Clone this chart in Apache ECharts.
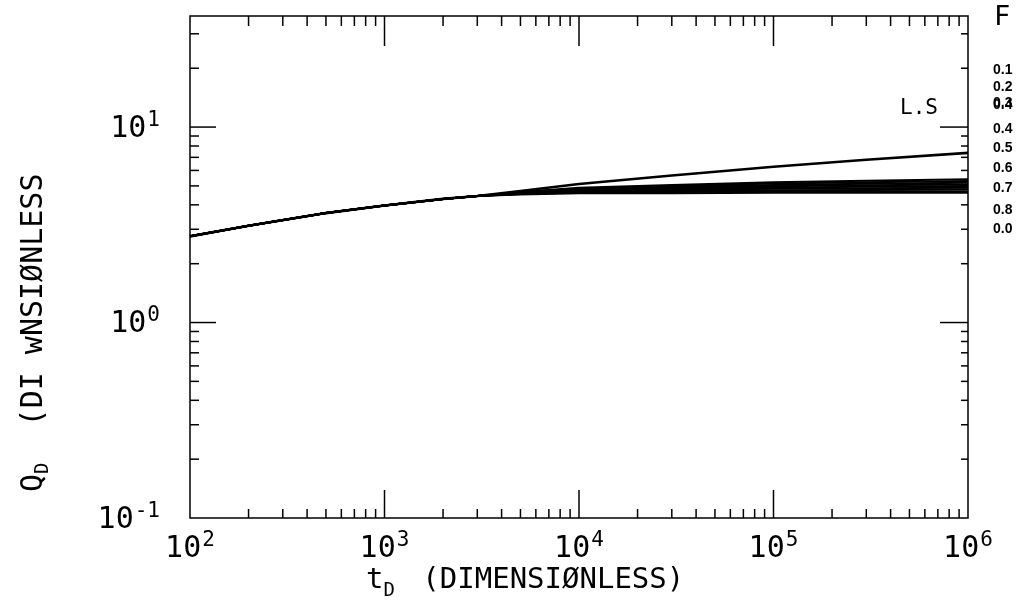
<!DOCTYPE html>
<html>
<head>
<meta charset="utf-8">
<script src="https://cdn.jsdelivr.net/npm/echarts@6/dist/echarts.min.js"></script>
<style>
html,body{margin:0;padding:0;background:#fff;}
#chart{width:1016px;height:602px;}
</style>
</head>
<body>
<div id="chart"></div>
<script>
// ---- data ----
const tValues = [100, 200, 500, 1000, 2000, 3000, 5000, 10000, 30000, 100000, 300000, 1000000];
const qLS   = [2.76, 3.13, 3.63, 3.97, 4.29, 4.44, 4.71, 5.11, 5.65, 6.26, 6.80, 7.38];
const qF01  = [2.76, 3.13, 3.63, 3.97, 4.29, 4.44, 4.66, 4.89, 5.05, 5.22, 5.31, 5.41];
const qF02  = [2.76, 3.13, 3.63, 3.97, 4.29, 4.44, 4.64, 4.85, 4.99, 5.14, 5.22, 5.30];
const qF03  = [2.76, 3.13, 3.63, 3.97, 4.29, 4.44, 4.63, 4.81, 4.93, 5.06, 5.13, 5.19];
const qF04  = [2.76, 3.13, 3.63, 3.97, 4.29, 4.44, 4.61, 4.77, 4.87, 4.98, 5.04, 5.09];
const qF05  = [2.76, 3.13, 3.63, 3.97, 4.29, 4.44, 4.59, 4.73, 4.82, 4.90, 4.95, 4.99];
const qF06  = [2.76, 3.13, 3.63, 3.97, 4.29, 4.44, 4.57, 4.69, 4.76, 4.83, 4.86, 4.89];
const qF07  = [2.76, 3.13, 3.63, 3.97, 4.29, 4.44, 4.56, 4.65, 4.71, 4.75, 4.77, 4.80];
const qF08  = [2.76, 3.13, 3.63, 3.97, 4.29, 4.44, 4.54, 4.62, 4.65, 4.68, 4.69, 4.70];
const qF00  = [2.76, 3.13, 3.63, 3.97, 4.29, 4.44, 4.52, 4.58, 4.59, 4.61, 4.61, 4.61];
const fLabels = ['0.1', '0.2', '0.3', '0.4', '0.4', '0.5', '0.6', '0.7', '0.8', '0.0'];
const xMajorTicks = [1000, 10000, 100000];
const xMinorTicks = [200,300,400,500,600,700,800,900,
  2000,3000,4000,5000,6000,7000,8000,9000,
  20000,30000,40000,50000,60000,70000,80000,90000,
  200000,300000,400000,500000,600000,700000,800000,900000];
const yMajorTicks = [1, 10];
const yMinorTicks = [0.2,0.3,0.4,0.5,0.6,0.7,0.8,0.9,2,3,4,5,6,7,8,9,20,30];

const MONO = '"DejaVu Sans Mono","Liberation Mono",monospace';

function zip(a){ return tValues.map((t,i)=>[t,a[i]]); }

const curveSeries = [
  ['L.S', qLS, 2.6],
  ['F=0.1', qF01, 2], ['F=0.2', qF02, 2], ['F=0.3', qF03, 2], ['F=0.4', qF04, 2],
  ['F=0.5', qF05, 2], ['F=0.6', qF06, 2], ['F=0.7', qF07, 2], ['F=0.8', qF08, 2],
  ['F=0.0', qF00, 2]
].map(([name, arr, w]) => ({
  name, type:'line', data: zip(arr), showSymbol:false, symbol:'none',
  smooth: false,
  lineStyle:{color:'#000', width:w, join:'round'}, z:3, silent:true
}));

function xTickRender(params, api){
  const cs = params.coordSys;
  const x = api.coord([api.value(0), 1])[0];
  const major = api.value(2);
  const lb = major ? 28 : 9, lt = major ? 30 : 10;
  const st = {stroke:'#000', lineWidth:1.5};
  return {type:'group', children:[
    {type:'line', shape:{x1:x, y1:cs.y+cs.height, x2:x, y2:cs.y+cs.height-lb}, style:st},
    {type:'line', shape:{x1:x, y1:cs.y, x2:x, y2:cs.y+lt}, style:st}
  ]};
}
function yTickRender(params, api){
  const cs = params.coordSys;
  const y = api.coord([200, api.value(1)])[1];
  const major = api.value(2);
  const ll = major ? 26 : 9, lr = major ? 28 : 7;
  const st = {stroke:'#000', lineWidth:1.5};
  return {type:'group', children:[
    {type:'line', shape:{x1:cs.x, y1:y, x2:cs.x+ll, y2:y}, style:st},
    {type:'line', shape:{x1:cs.x+cs.width, y1:y, x2:cs.x+cs.width-lr, y2:y}, style:st}
  ]};
}

function powLabel(v){
  const lg = Math.log10(v);
  const e = Math.round(lg);
  if (Math.abs(lg - e) > 1e-6) return '';
  return '{b|10}{s|' + e + '}';
}
const labelRich = {
  b:{fontFamily:MONO, fontSize:30, color:'#000', verticalAlign:'bottom'},
  s:{fontFamily:MONO, fontSize:21, color:'#000', verticalAlign:'bottom', padding:[0,0,13,1]}
};

const fGraphics = [];
const fY = [70, 87, 103, 105, 129, 148, 168, 188, 210, 229];
fLabels.forEach((s,i)=>{
  fGraphics.push({type:'text', x:993, y:fY[i], style:{text:s, font:'bold 14px "Liberation Sans",Arial,sans-serif', fill:'#000', textVerticalAlign:'middle'}, z:10});
});

const option = {
  animation:false,
  backgroundColor:'#fff',
  grid:{left:190, right:48, top:16, bottom:84, show:true, borderColor:'#000', borderWidth:1.5, backgroundColor:'transparent'},
  xAxis:{type:'log', logBase:10, min:100, max:1000000,
    axisLine:{show:false}, axisTick:{show:false}, splitLine:{show:false}, minorTick:{show:false},
    axisLabel:{formatter:powLabel, rich:labelRich, margin:12, showMinLabel:true, showMaxLabel:true}},
  yAxis:{type:'log', logBase:10, min:0.1, max:37,
    axisLine:{show:false}, axisTick:{show:false}, splitLine:{show:false}, minorTick:{show:false},
    axisLabel:{formatter:powLabel, rich:labelRich, margin:30, showMinLabel:true, showMaxLabel:false}},
  series: curveSeries.concat([
    {type:'custom', renderItem:xTickRender, silent:true, z:4, clip:false,
     encode:{x:0,y:1},
     data: xMajorTicks.map(v=>[v,1,1]).concat(xMinorTicks.map(v=>[v,1,0]))},
    {type:'custom', renderItem:yTickRender, silent:true, z:4, clip:false,
     encode:{x:0,y:1},
     data: yMajorTicks.map(v=>[200,v,1]).concat(yMinorTicks.map(v=>[200,v,0]))}
  ]),
  graphic: [
    {type:'text', x:34, y:492, rotation:Math.PI/2,
     style:{text:'{q|Q}{d|D}{q|  (DI wNSIØNLESS}', textAlign:'left', textVerticalAlign:'middle',
       rich:{q:{fontFamily:MONO, fontSize:30, fill:'#000', verticalAlign:'bottom'},
             d:{fontFamily:MONO, fontSize:19, fill:'#000', verticalAlign:'bottom', padding:[0,0,-4,0]}}}},
    {type:'text', x:366, y:580,
     style:{text:'{q|t}{d|D}{p| }{q|(DIMENSIØNLESS)}', textAlign:'left', textVerticalAlign:'middle',
       rich:{q:{fontFamily:MONO, fontSize:29, fill:'#000', verticalAlign:'bottom'},
             p:{fontFamily:MONO, fontSize:29, fill:'#000', verticalAlign:'bottom', padding:[0,10,0,0]},
             d:{fontFamily:MONO, fontSize:19, fill:'#000', verticalAlign:'bottom', padding:[0,0,-6,0]}}}},
    {type:'text', x:994, y:18, style:{text:'F', font:'27px '+MONO, fill:'#000', textVerticalAlign:'middle'}},
    {type:'text', x:900, y:109, style:{text:'L.S', font:'21px '+MONO, fill:'#000', textVerticalAlign:'middle'}}
  ].concat(fGraphics)
};

const chart = echarts.init(document.getElementById('chart'), null, {renderer:'canvas'});
chart.setOption(option);
</script>
</body>
</html>
